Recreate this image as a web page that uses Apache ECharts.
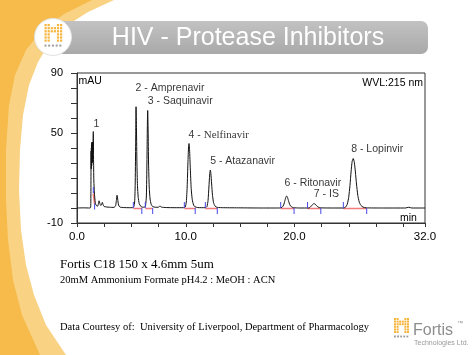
<!DOCTYPE html>
<html><head><meta charset="utf-8">
<script src="https://cdn.jsdelivr.net/npm/echarts@6/dist/echarts.min.js"></script>
<style>html,body{margin:0;padding:0;background:#fff}#c{width:474px;height:355px}</style>
</head><body><div id="c"></div>
<script>
// Chromatogram trace: [time (min), signal (mAU)]
const trace = [
 [0,0],[0.6,0.1],[1.2,0],[1.26,0.5],[1.28,12],[1.29,30],[1.3,38],[1.31,26],[1.32,40],[1.33,30],[1.34,43],[1.35,28],[1.36,42],[1.37,31],[1.38,44],[1.39,30],[1.4,42],[1.41,32],[1.42,44],[1.43,31],[1.44,43],[1.45,33],[1.46,44],[1.47,38],[1.48,46],[1.5,51],[1.52,34],[1.55,18],[1.6,10],[1.66,5],[1.72,2.5],[1.8,1.5],[1.9,1.2],[1.96,2.5],[2.03,4.8],[2.1,3],[2.17,1.8],[2.25,2.0],[2.33,3.8],[2.4,2.2],[2.5,1.0],[2.7,0.7],[3.0,0.5],[3.4,0.4],
 [3.55,1.5],[3.62,5],[3.68,8.5],[3.74,6],[3.82,2],[3.95,0.6],[4.3,0.3],[4.8,0.2],[5.1,0.2],
 [5.22,0.8],[5.3,4],[5.35,15],[5.39,40],[5.43,67.5],[5.47,52],[5.51,30],[5.56,15],[5.63,7],[5.72,3],[5.85,1.2],[6.0,0.6],[6.2,0.5],
 [6.3,1.5],[6.38,8],[6.43,30],[6.47,55],[6.5,65],[6.54,52],[6.58,30],[6.64,14],[6.72,6],[6.82,2.5],[6.95,1],[7.2,0.5],[7.5,0.5],[7.62,1.4],[7.75,0.6],[8.2,0.3],[9.0,0.2],[9.8,0.2],
 [9.95,0.6],[10.05,4],[10.13,14],[10.2,30],[10.26,41],[10.3,43],[10.35,39],[10.42,26],[10.5,13],[10.6,5.5],[10.72,2],[10.85,0.8],[11.1,0.3],[11.8,0.2],
 [11.95,1],[12.05,5],[12.13,14],[12.2,22],[12.26,25.3],[12.31,23],[12.38,16],[12.46,8.5],[12.56,3.5],[12.7,1.2],[12.9,0.4],[13.5,0.2],[15,0.1],[17,0],[18.6,0],
 [18.85,0.4],[19.0,2],[19.12,5],[19.22,7.5],[19.28,8],[19.36,7],[19.46,4.5],[19.58,2],[19.72,0.8],[19.9,0.2],[20.5,0],[21.3,0],
 [21.45,0.6],[21.6,1.8],[21.72,2.7],[21.8,2.9],[21.9,2.6],[22.02,1.6],[22.18,0.6],[22.4,0.1],[23.5,0],[24.5,0],
 [24.7,0.6],[24.85,2.5],[24.98,7],[25.1,15],[25.2,24],[25.3,31],[25.4,33],[25.5,30.5],[25.6,24],[25.7,16],[25.82,8.5],[25.95,4],[26.1,1.8],[26.3,0.6],[26.6,0.1],[28,0],[30.2,0],[30.5,0.5],[30.8,0],[32,0]
];
// Peak annotations
const peakNames = ['1','2 - Amprenavir','3 - Saquinavir','4 - Nelfinavir','5 - Atazanavir','6 - Ritonavir','7 - IS','8 - Lopinvir'];
const labelTime = [1.56, 5.43, 6.56, 10.30, 12.29, 19.13, 21.82, 25.26];
const labelMAU  = [55.8, 79.3, 70.9, 48.0, 30.9, 16.4, 8.7, 39.1];
// Integration delimiters
const startTime = [1.50, 5.18, 6.28, 9.87, 11.80, 18.73, 21.20, 24.49];
const startBase = [10, 0, 0, 0, 0, 0, 0, 0];
const endTime   = [1.62, 5.96, 6.96, 10.87, 12.90, 19.96, 22.42, 26.64];
const endBase   = [3, 0, 0, 0, 0, 0, 0, 0];
// Axis labels
const xTickLabels = [0, 10, 20, 32];
const yTickLabels = [90, 50, -10];

const SANS = "'Liberation Sans', Arial, sans-serif";
const SERIF = "'Liberation Serif', 'Times New Roman', serif";
const TICK = 4;

const blueData = [], redData = [];
startTime.forEach((t, i) => {
  blueData.push([t, startBase[i]], [t, startBase[i] + TICK], [t, '-']);
  blueData.push([endTime[i], endBase[i]], [endTime[i], endBase[i] - TICK], [endTime[i], '-']);
  redData.push([t, startBase[i] - 0.3], [endTime[i], endBase[i] - 0.3], [endTime[i], '-']);
});

const labelData = peakNames.map((n, i) => {
  const item = { value: [labelTime[i], labelMAU[i]], name: n };
  if (n.indexOf('Nelfinavir') >= 0) {
    item.label = { formatter: '4 - {s|Nelfinavir}' };
  }
  return item;
});

// decorative dot logo
function dotLogo(x0, y0, step, size) {
  const pat = ['110011','111111','111111','110011','110011','110011'];
  const els = [];
  pat.forEach((row, r) => row.split('').forEach((c, k) => {
    if (c === '1') els.push({ type: 'rect', z: 20, shape: { x: x0 + k * step, y: y0 + r * step, width: size, height: size }, style: { fill: '#f6b43a' } });
  }));
  for (let k = 0; k < 5; k++) els.push({ type: 'rect', z: 20, shape: { x: x0 + k * step * 1.2, y: y0 + 6 * step + 2, width: size * 0.9, height: size * 0.9 }, style: { fill: '#9a9a9a' } });
  return els;
}

const outerSwoosh = [[0,0],[114,0],[88,12],[66,26],[50,42],[38,62],[29,85],[23,115],[20,150],[19,190],[21,230],[26,265],[34,295],[46,325],[66,355],[0,355]];
const innerSwoosh = [[0,0],[92,0],[64,14],[42,30],[26,50],[15,75],[9,105],[6,150],[6,200],[8,240],[13,280],[22,315],[40,355],[0,355]];

const graphics = [
  { type: 'polygon', z: -10, shape: { points: outerSwoosh }, style: { fill: '#f9d283' } },
  { type: 'polygon', z: -9, shape: { points: innerSwoosh }, style: { fill: '#f6bb4a' } },
  { type: 'rect', z: 10, shape: { x: 56, y: 21, width: 372, height: 33, r: 7 },
    style: { fill: new echarts.graphic.LinearGradient(0, 0, 0, 1, [{ offset: 0, color: '#c2c2c2' }, { offset: 1, color: '#a9a9a9' }]) } },
  { type: 'circle', z: 15, shape: { cx: 53, cy: 37, r: 18.5 }, style: { fill: '#ffffff', stroke: '#e2e2e2', lineWidth: 1 } },
  { type: 'text', z: 20, x: 248, y: 38, style: { text: 'HIV - Protease Inhibitors', fill: '#ffffff', font: '25px ' + SANS, textAlign: 'center', textVerticalAlign: 'middle' } },
  { type: 'text', z: 20, x: 78.5, y: 81, style: { text: 'mAU', fill: '#000', font: '10.5px ' + SANS, textAlign: 'left', textVerticalAlign: 'middle' } },
  { type: 'text', z: 20, x: 423, y: 83, style: { text: 'WVL:215 nm', fill: '#000', font: '10.5px ' + SANS, textAlign: 'right', textVerticalAlign: 'middle' } },
  { type: 'text', z: 20, x: 400, y: 218, style: { text: 'min', fill: '#000', font: '10.5px ' + SANS, textAlign: 'left', textVerticalAlign: 'middle' } },
  { type: 'text', z: 20, x: 60, y: 265, style: { text: 'Fortis C18 150 x 4.6mm 5um', fill: '#000', font: '13px ' + SERIF, textAlign: 'left', textVerticalAlign: 'middle' } },
  { type: 'text', z: 20, x: 60, y: 280, style: { text: '20mM Ammonium Formate pH4.2 : MeOH : ACN', fill: '#000', font: '10.5px ' + SERIF, textAlign: 'left', textVerticalAlign: 'middle' } },
  { type: 'text', z: 20, x: 60, y: 327, style: { text: 'Data Courtesy of:  University of Liverpool, Department of Pharmacology', fill: '#000', font: '10.5px ' + SERIF, textAlign: 'left', textVerticalAlign: 'middle' } },
  { type: 'text', z: 20, x: 413, y: 331, style: { text: 'Fortis', fill: '#8d8d8d', font: '16px ' + SANS, textAlign: 'left', textVerticalAlign: 'middle' } },
  { type: 'text', z: 20, x: 457, y: 323, style: { text: '™', fill: '#8d8d8d', font: '6px ' + SANS, textAlign: 'left', textVerticalAlign: 'middle' } },
  { type: 'text', z: 20, x: 414, y: 343, style: { text: 'Technologies Ltd.', fill: '#9a9a9a', font: '7px ' + SANS, textAlign: 'left', textVerticalAlign: 'middle' } }
].concat(dotLogo(44.5, 24, 3.1, 2.2)).concat(dotLogo(394, 318, 2.6, 2));

const chart = echarts.init(document.getElementById('c'), null, { renderer: 'canvas' });
chart.setOption({
  animation: false,
  backgroundColor: '#ffffff',
  grid: { left: 77, right: 49, top: 73, bottom: 132, show: true, borderColor: '#333', borderWidth: 1, backgroundColor: 'transparent' },
  xAxis: {
    type: 'value', min: 0, max: 32, interval: 2.5,
    axisLine: { show: true, onZero: false, lineStyle: { color: '#333', width: 1 } },
    axisTick: { show: true, length: 4, lineStyle: { color: '#333' } },
    splitLine: { show: false },
    axisLabel: { margin: 8, color: '#000', fontFamily: SANS, fontSize: 11.5, showMaxLabel: true, showMinLabel: true,
      formatter: v => xTickLabels.indexOf(v) >= 0 ? v.toFixed(1) : '' }
  },
  yAxis: {
    type: 'value', min: -10, max: 90, interval: 10,
    axisLine: { show: true, onZero: false, lineStyle: { color: '#333', width: 1 } },
    axisTick: { show: true, length: 6, lineStyle: { color: '#333' } },
    splitLine: { show: false },
    axisLabel: { margin: 14, color: '#000', fontFamily: SANS, fontSize: 11,
      formatter: v => yTickLabels.indexOf(v) >= 0 ? String(v) : '' }
  },
  graphic: { elements: graphics },
  series: [
    { type: 'line', data: redData, symbol: 'none', connectNulls: false, lineStyle: { color: '#f27a7a', width: 1.6 }, z: 3 },
    { type: 'line', data: trace, symbol: 'none', smooth: 0.2, lineStyle: { color: '#111', width: 1 }, z: 4 },
    { type: 'line', data: blueData, symbol: 'none', connectNulls: false, lineStyle: { color: '#4646e6', width: 1 }, z: 5 },
    { type: 'scatter', data: labelData, symbolSize: 1, itemStyle: { color: 'rgba(0,0,0,0)' }, z: 6, silent: true,
      label: { show: true, position: [0, 0], align: 'left', verticalAlign: 'middle', color: '#000', fontFamily: SANS, fontSize: 10.5,
        formatter: p => p.name,
        rich: { s: { fontFamily: SERIF, fontSize: 11, color: '#000' } } } }
  ]
});
</script></body></html>
